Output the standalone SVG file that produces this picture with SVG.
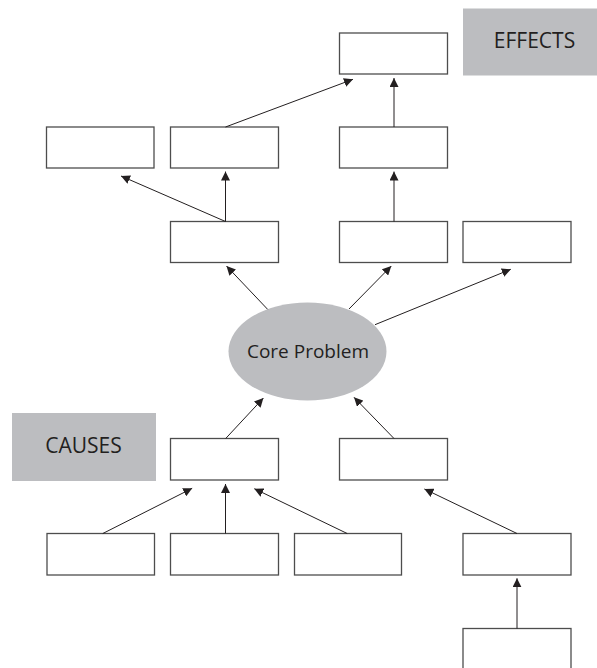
<svg xmlns="http://www.w3.org/2000/svg" width="597" height="668" viewBox="0 0 597 668">
<style>
.box{fill:#ffffff;stroke:#4d4d4d;stroke-width:1.3}
.label{fill:#bcbdc0;stroke:none}
.core{fill:#bcbdc0;stroke:none}
.txt{font-family:"Open Sans","Noto Sans",sans-serif;fill:#231f20;text-anchor:middle}
.con line{stroke:#231f20;stroke-width:1;marker-end:url(#arr)}
</style>
<defs>
<marker id="arr" viewBox="0 0 10 10" refX="10" refY="5" markerWidth="9" markerHeight="9" markerUnits="userSpaceOnUse" orient="auto">
<path d="M0,0 L10,5 L0,10 z" fill="#231f20"/>
</marker>
</defs>
<rect width="597" height="668" fill="#ffffff"/>
<g id="effects-label"><rect class="label" x="463" y="8.5" width="140" height="67"/><text class="txt" x="534.5" y="48.3" font-size="21">EFFECTS</text></g>
<g id="causes-label"><rect class="label" x="12" y="413" width="144" height="68"/><text class="txt" x="83.5" y="453.3" font-size="21">CAUSES</text></g>
<g id="core"><ellipse class="core" cx="307.5" cy="351.5" rx="79" ry="49"/><text class="txt" x="308" y="358.3" font-size="19">Core Problem</text></g>
<g id="e-top"><rect class="box" x="339.5" y="33" width="108" height="41"/></g>
<g id="e2a"><rect class="box" x="46.5" y="127" width="107.5" height="41"/></g>
<g id="e2b"><rect class="box" x="170.5" y="127" width="108" height="41"/></g>
<g id="e2c"><rect class="box" x="339.5" y="127" width="108" height="41"/></g>
<g id="e3a"><rect class="box" x="170.5" y="221.5" width="108" height="41"/></g>
<g id="e3b"><rect class="box" x="339.5" y="221.5" width="108" height="41"/></g>
<g id="e3c"><rect class="box" x="463" y="221.5" width="108" height="41"/></g>
<g id="c1a"><rect class="box" x="170.5" y="438.5" width="108" height="41.5"/></g>
<g id="c1b"><rect class="box" x="339.5" y="438.5" width="108" height="41.5"/></g>
<g id="c2a"><rect class="box" x="47" y="533.5" width="107.5" height="41.5"/></g>
<g id="c2b"><rect class="box" x="170.5" y="533.5" width="108" height="41.5"/></g>
<g id="c2c"><rect class="box" x="294.5" y="533.5" width="107" height="41.5"/></g>
<g id="c2d"><rect class="box" x="463" y="533.5" width="108" height="41.5"/></g>
<g id="c3a"><rect class="box" x="463" y="628.5" width="108" height="50"/></g>
<g id="connectors" class="con">
<line x1="225.5" y1="127" x2="353" y2="79.3"/>
<line x1="394" y1="127" x2="394" y2="78"/>
<line x1="225.5" y1="221.5" x2="121" y2="176"/>
<line x1="225.5" y1="221.5" x2="225.5" y2="171.5"/>
<line x1="394" y1="221.5" x2="394" y2="171.5"/>
<line x1="267.6" y1="309.3" x2="226.5" y2="266"/>
<line x1="349" y1="309" x2="391.3" y2="266"/>
<line x1="375" y1="324.7" x2="510.8" y2="269.3"/>
<line x1="225.7" y1="438.5" x2="263.4" y2="398"/>
<line x1="394" y1="438.5" x2="354" y2="397.3"/>
<line x1="102.8" y1="533.5" x2="192.2" y2="488.3"/>
<line x1="225.5" y1="533.5" x2="225.5" y2="484"/>
<line x1="347.2" y1="533.5" x2="254.3" y2="488.7"/>
<line x1="517" y1="533.5" x2="424.4" y2="489"/>
<line x1="517" y1="628.5" x2="517" y2="578.3"/>
</g>
</svg>
